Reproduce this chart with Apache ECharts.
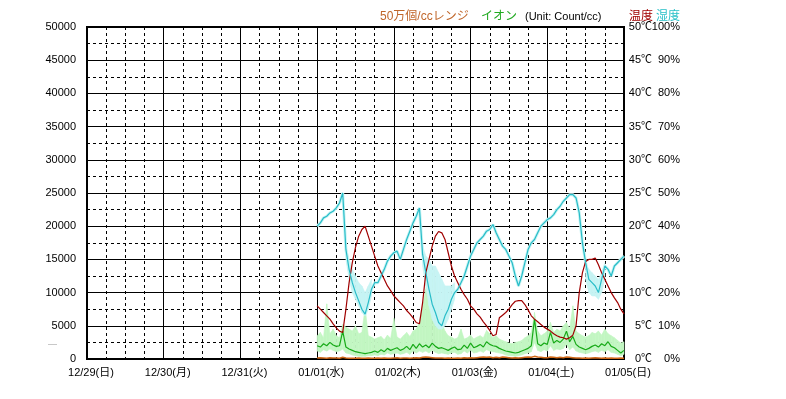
<!DOCTYPE html>
<html lang="ja">
<head>
<meta charset="UTF-8">
<title>イオン・温度・湿度</title>
<script src="https://cdn.jsdelivr.net/npm/echarts@6/dist/echarts.min.js"></script>
<style>
html, body { margin: 0; padding: 0; background: #fff; }
#chart { width: 786px; height: 399px; }
</style>
</head>
<body>
<div id="chart"></div>
<script>
// x軸ラベル（12/29 00:00 から 24時間ごと）
var dayLabels = ['12/29(日)', '12/30(月)', '12/31(火)', '01/01(水)', '01/02(木)', '01/03(金)', '01/04(土)', '01/05(日)'];
var dataStartHour = 72; // 01/01 00:00 から1時間ごと

// 湿度 %
var humidity = [
  40, 41, 42.5, 43, 44, 44.5, 45.5, 47, 50, 33,
  27, 23, 20, 17.5, 15, 13.5, 17, 21, 23, 23,
  25, 27, 29.5, 31, 32, 32.5, 30, 33, 36, 38.5,
  41, 43, 45.5, 31.5, 26, 21, 16.5, 14, 11, 10,
  13, 15, 18, 20, 21, 23, 25, 28, 31, 33,
  35, 36, 37, 38.5, 39, 40.5, 38, 36, 34, 33,
  31, 29, 25, 22, 25, 29, 33, 35, 36, 38,
  40, 41, 42, 42.5, 43.5, 45, 46, 47.5, 48.5, 49.5,
  49.5, 48.5, 44, 35, 29, 24, 23, 22, 20, 24,
  28, 27, 25, 28, 29, 30, 31
];

// 温度 ℃
var temperature = [
  8, 7.5, 7, 6.5, 6, 5.3, 4.7, 4.2, 4, 7.5,
  11.5, 14.5, 16.8, 18.5, 19.5, 20, 18.5, 17, 15.5, 14,
  13, 12, 11, 10.3, 9.5, 9, 8.5, 8, 7.3, 6.8,
  6.2, 5.5, 5.3, 8.5, 13, 15, 17, 18.5, 19.2, 19,
  18, 16, 14, 12.5, 11.5, 10.5, 9.7, 9, 8, 7.5,
  6.8, 6.3, 5.6, 5, 4.3, 3.5, 3.7, 6.2, 6.6, 7,
  7.5, 8.2, 8.7, 8.8, 8.8, 8.2, 7.4, 6.5, 6, 5.6,
  5.2, 4.8, 4.5, 4.2, 3.8, 3.5, 3.3, 3.2, 3, 3.2,
  3.6, 5, 10, 13, 14.7, 15, 15, 15.2, 14.2, 13,
  12, 11, 10, 9.2, 8.5, 7.5, 6.8
];

// イオン Count/cc（平均）
var ionCount = [
  2000, 1800, 2300, 2000, 2500, 2100, 1900, 2000, 4200, 1800,
  1500, 1300, 1100, 1000, 900, 800, 900, 1000, 1200, 1000,
  1400, 1100, 1600, 1300, 1500, 1700, 1300, 1500, 1900, 1400,
  2200, 1600, 2300, 1800, 2100, 1700, 2400, 1900, 1600, 1700,
  1500, 1300, 1600, 1800, 1400, 1500, 2100, 1600, 2400, 1700,
  1900, 2200, 1800, 2600, 2200, 2000, 1900, 1600, 1400, 1200,
  1100, 1000, 900, 1000, 1200, 1400, 1600, 2000, 6000, 2300,
  2000, 2400, 2200, 4000, 2400, 2800, 2500, 3000, 4200, 2600,
  3400, 2200, 1800, 1600, 1400, 1600, 1900, 2100, 1800, 2300,
  2000, 2600, 1900, 1700, 1300, 900, 1300
];

// イオン 最大
var ionHigh = [
  3500, 4000, 3200, 8300, 3800, 4500, 3500, 3200, 5200, 4800,
  4500, 4200, 5000, 3800, 4000, 7800, 3500, 3300, 3000, 3200,
  3400, 2900, 3600, 3100, 6100, 3300, 3000, 3500, 4000, 3400,
  4200, 4500, 5500, 8000, 10500, 12500, 13000, 11500, 8500, 5500,
  4200, 3500, 3300, 3000, 3200, 4500, 3000, 3200, 3600, 3000,
  3300, 3500, 3200, 4300, 3800, 3200, 3500, 3000, 2800, 2600,
  2400, 2300, 2500, 2600, 2800, 3200, 3500, 4000, 7000, 4200,
  3500, 3800, 4200, 5500, 4000, 4500, 4200, 5000, 5500, 4500,
  8000, 4200, 3800, 3500, 3300, 3500, 4000, 3800, 4200, 3600,
  4500, 3800, 3500, 3200, 2800, 2400, 2600
];

// イオン 最小
var ionLow = [
  1200, 1000, 1400, 1200, 1500, 1300, 1100, 1200, 1500, 900,
  800, 600, 500, 400, 400, 400, 500, 500, 600, 500,
  700, 600, 900, 700, 800, 900, 700, 800, 1000, 700,
  1200, 900, 1200, 1000, 1200, 900, 1300, 1000, 800, 900,
  800, 700, 900, 1000, 700, 800, 1200, 900, 1300, 900,
  1000, 1200, 1000, 1400, 1200, 1100, 1000, 900, 800, 600,
  500, 500, 400, 500, 600, 800, 900, 1100, 2500, 1300,
  1100, 1400, 1200, 2000, 1300, 1500, 1400, 1600, 2200, 1400,
  1800, 1200, 1000, 900, 800, 900, 1100, 1200, 1000, 1300,
  1100, 1400, 1000, 900, 700, 500, 700
];

// 50万個/ccレンジ
var range50 = [
  150, 200, 150, 100, 200, 150, 150, 100, 250, 150,
  100, 100, 100, 150, 100, 100, 150, 100, 100, 150,
  100, 150, 100, 100, 150, 200, 100, 150, 150, 100,
  150, 200, 150, 250, 300, 250, 200, 150, 150, 150,
  100, 150, 100, 100, 150, 100, 200, 150, 200, 150,
  200, 250, 300, 250, 300, 200, 250, 200, 300, 250,
  200, 150, 200, 150, 200, 250, 300, 250, 400, 300,
  250, 200, 200, 300, 250, 200, 250, 200, 300, 250,
  200, 150, 150, 100, 150, 100, 150, 200, 150, 100,
  150, 100, 150, 100, 100, 150, 100
];

// 湿度の変動幅 [時間, 最小, 最大]
var humBand = [
  [9, 30, 34], [10, 24, 30], [11, 20, 27], [12, 18, 25], [13, 16, 23], [14, 14, 22], [15, 13, 20], [16, 15, 22], [17, 19, 24],
  [33, 28, 34], [34, 22, 31], [35, 16, 30], [36, 12, 28], [37, 10, 28], [38, 9, 26], [39, 9, 24], [40, 10, 22], [41, 12, 22], [42, 15, 22], [43, 18, 23],
  [84, 24, 29], [85, 20, 27], [86, 19, 26], [87, 19, 25], [88, 18, 24], [89, 20, 26], [90, 24, 29]
];

var FONT = "'Liberation Sans', 'Noto Sans CJK JP', sans-serif";

function toPairs(arr) {
  return arr.map(function (v, i) { return [dataStartHour + i, v]; });
}

// 幅（最小〜最大）を隣り合う点どうしの四角形で塗る
function bandSeries(rows, yIndex, color) {
  return {
    type: 'custom', xAxisIndex: 0, yAxisIndex: yIndex, silent: true,
    data: rows,
    encode: { x: 0, y: [1, 2] },
    renderItem: function (params, api) {
      var i = params.dataIndex;
      var a = rows[i], b = rows[i + 1];
      if (!b || b[0] - a[0] > 1) return;
      var pts = [
        api.coord([a[0], a[1]]), api.coord([a[0], a[2]]),
        api.coord([b[0], b[2]]), api.coord([b[0], b[1]])
      ];
      return { type: 'polygon', shape: { points: pts }, style: { fill: color, stroke: color, lineWidth: 0.6 } };
    }
  };
}

var ionRows = ionLow.map(function (v, i) { return [dataStartHour + i, v, ionHigh[i]]; });
var humRows = humBand.map(function (b) { return [dataStartHour + b[0], b[1], b[2]]; });

var myChart = echarts.init(document.getElementById('chart'));

var option = {
  animation: false,
  backgroundColor: '#fff',
  grid: {
    left: 87, top: 27, width: 537, height: 332,
    show: true, borderColor: '#000', borderWidth: 2, backgroundColor: '#fff'
  },
  xAxis: [
    {
      type: 'value', min: 0, max: 168, interval: 24,
      axisLine: { show: false }, axisTick: { show: false },
      splitLine: { lineStyle: { color: '#000', width: 1 } },
      axisLabel: {
        color: '#000', fontSize: 11, fontFamily: FONT, margin: 8,
        padding: [0, 0, 0, 8], showMinLabel: true, showMaxLabel: true,
        formatter: function (v) { return dayLabels[Math.round(v / 24)]; }
      }
    },
    {
      type: 'value', min: 0, max: 168, interval: 6,
      axisLine: { show: false }, axisTick: { show: false }, axisLabel: { show: false },
      splitLine: { lineStyle: { color: '#000', width: 1, type: [3, 3] } }
    }
  ],
  yAxis: [
    {
      type: 'value', min: 0, max: 50000, interval: 5000,
      axisLine: { show: false }, axisTick: { show: false },
      splitLine: { lineStyle: { color: '#000', width: 1 } },
      axisLabel: { color: '#000', fontSize: 11, fontFamily: FONT, margin: 11, formatter: function (v) { return String(v); } }
    },
    {
      type: 'value', min: 0, max: 50000, interval: 2500,
      axisLine: { show: false }, axisTick: { show: false }, axisLabel: { show: false },
      splitLine: { lineStyle: { color: '#000', width: 1, type: [3, 3] } }
    },
    {
      type: 'value', min: 0, max: 50, interval: 5, position: 'right',
      axisLine: { show: false }, axisTick: { show: false }, splitLine: { show: false },
      axisLabel: { color: '#000', fontSize: 11, fontFamily: FONT, margin: 28, align: 'right', formatter: '{value}℃' }
    },
    {
      type: 'value', min: 0, max: 100, interval: 10, position: 'right',
      axisLine: { show: false }, axisTick: { show: false }, splitLine: { show: false },
      axisLabel: { color: '#000', fontSize: 11, fontFamily: FONT, margin: 56, align: 'right', formatter: '{value}%' }
    }
  ],
  graphic: [
    { type: 'text', x: 380, y: 17, style: { text: '50万個/ccレンジ', fill: '#c0662a', font: '12px ' + FONT, verticalAlign: 'middle' } },
    { type: 'text', x: 481, y: 17, style: { text: 'イオン', fill: '#22aa22', font: '12px ' + FONT, verticalAlign: 'middle' } },
    { type: 'text', x: 525, y: 17, style: { text: '(Unit: Count/cc)', fill: '#000', font: '11px ' + FONT, verticalAlign: 'middle' } },
    { type: 'text', x: 629, y: 17, style: { text: '温度', fill: '#a00000', font: '12px ' + FONT, verticalAlign: 'middle' } },
    { type: 'text', x: 656, y: 17, style: { text: '湿度', fill: '#28c0c8', font: '12px ' + FONT, verticalAlign: 'middle' } },
    { type: 'line', shape: { x1: 48, y1: 344.5, x2: 57, y2: 344.5 }, style: { stroke: '#c8c8c8', lineWidth: 1 } }
  ],
  series: [
    bandSeries(ionRows, 0, '#c2f6c2'),
    bandSeries(humRows, 3, '#c6f4f4'),
    {
      name: 'humHalo', type: 'line', xAxisIndex: 0, yAxisIndex: 3,
      data: toPairs(humidity), symbol: 'none', lineStyle: { color: '#c6f4f4', width: 3 }
    },
    {
      name: '50万個/ccレンジ', type: 'line', xAxisIndex: 0, yAxisIndex: 0,
      data: toPairs(range50), symbol: 'none', lineStyle: { color: '#d06818', width: 1.5 }
    },
    {
      name: 'イオン', type: 'line', xAxisIndex: 0, yAxisIndex: 0,
      data: toPairs(ionCount), symbol: 'none', lineStyle: { color: '#18aa18', width: 1.2 }
    },
    {
      name: '温度', type: 'line', xAxisIndex: 0, yAxisIndex: 2,
      data: toPairs(temperature), symbol: 'none', lineStyle: { color: '#a00000', width: 1.2 }
    },
    {
      name: '湿度', type: 'line', xAxisIndex: 0, yAxisIndex: 3,
      data: toPairs(humidity), symbol: 'none', lineStyle: { color: '#28bcc8', width: 1.2 }
    }
  ]
};
myChart.setOption(option);
</script>
</body>
</html>
